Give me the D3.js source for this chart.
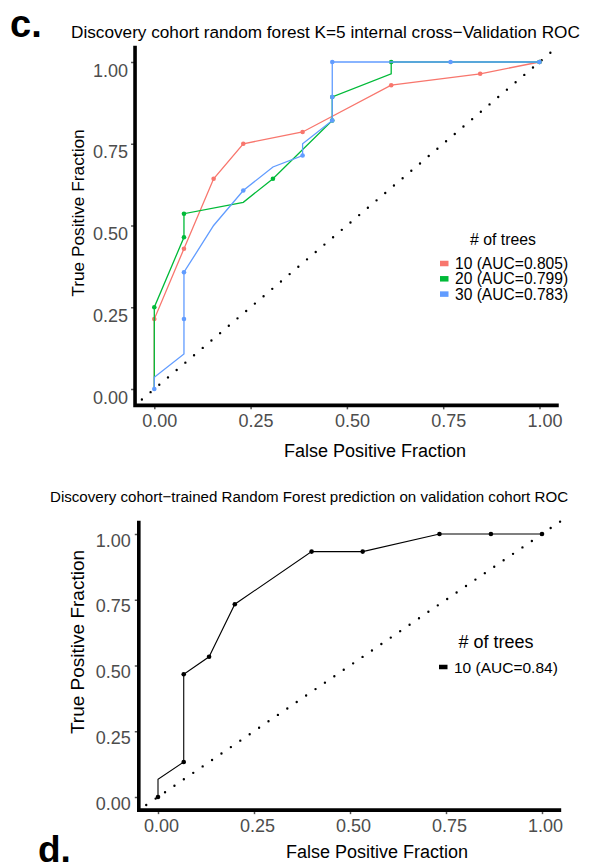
<!DOCTYPE html>
<html>
<head>
<meta charset="utf-8">
<script src="https://cdn.jsdelivr.net/npm/d3@7"></script>
<style>
  body { margin: 0; background: #fff; }
  svg text { font-family: "Liberation Sans", Arial, Helvetica, sans-serif; }
</style>
</head>
<body>
<svg id="chart" width="598" height="864"></svg>
<script>
// tick values + labels, shared by both panels
const tickVals = [0, 0.25, 0.5, 0.75, 1];
const tickLabels = ["0.00", "0.25", "0.50", "0.75", "1.00"];

// panel c : K=5 cross validation, three forests
const treesC = ["10", "20", "30"];
const aucC = ["0.805", "0.799", "0.783"];
const colorsC = ["#F8766D", "#00BA38", "#619CFF"];

const fpr10 = [0, 0, 0.077, 0.154, 0.231, 0.385, 0.615, 0.846, 1];
const tpr10 = [0, 0.214, 0.429, 0.643, 0.75, 0.786, 0.929, 0.964, 1];
const cut10 = [0, 1, 1, 1, 1, 1, 1, 1, 1];

const fpr20 = [0, 0, 0.077, 0.077, 0.231, 0.308, 0.462, 0.462, 0.615, 0.615, 1];
const tpr20 = [0, 0.25, 0.464, 0.536, 0.571, 0.643, 0.821, 0.893, 0.964, 1, 1];
const cut20 = [0, 1, 1, 1, 0, 1, 1, 1, 0, 1, 1];

const fpr30 = [0, 0, 0.077, 0.077, 0.077, 0.154, 0.231, 0.308, 0.385, 0.385, 0.462, 0.462, 0.462, 0.769, 1];
const tpr30 = [0, 0.036, 0.107, 0.214, 0.357, 0.5, 0.607, 0.679, 0.714, 0.75, 0.821, 0.893, 1, 1, 1];
const cut30 = [1, 0, 0, 1, 1, 0, 1, 0, 1, 0, 1, 1, 1, 1, 1];

// panel d : validation cohort prediction
const treesD = ["10"];
const aucD = ["0.84"];
const fprD = [0, 0, 0.067, 0.067, 0.133, 0.2, 0.4, 0.533, 0.733, 0.867, 1];
const tprD = [0, 0.067, 0.133, 0.467, 0.533, 0.733, 0.933, 0.933, 1, 1, 1];
const cutD = [1, 0, 1, 1, 1, 1, 1, 1, 1, 1, 1];

const svg = d3.select("#chart");

function zip(fpr, tpr, cut) {
  return fpr.map((f, i) => ({ x: f, y: tpr[i], cut: cut[i] }));
}

function drawPanel(cfg) {
  const x = d3.scaleLinear().domain([0, 1]).range([cfg.x0, cfg.x1]);
  const y = d3.scaleLinear().domain([0, 1]).range([cfg.y0, cfg.y1]);
  const g = svg.append("g");

  // label like "c."
  g.append("text")
    .attr("x", cfg.tagX).attr("y", cfg.tagY)
    .style("font-size", cfg.tagSize + "px").style("font-weight", "bold")
    .text(cfg.tag);

  g.append("text")
    .attr("x", cfg.titleX).attr("y", cfg.titleY)
    .style("font-size", cfg.titleSize + "px")
    .text(cfg.title);

  // diagonal reference
  g.append("line")
    .attr("x1", x(-0.05)).attr("y1", y(-0.05))
    .attr("x2", x(1.05)).attr("y2", y(1.05))
    .attr("stroke", "#000").attr("stroke-width", 2.4)
    .attr("stroke-linecap", "round")
    .attr("stroke-dasharray", "0 11.4")
    .attr("stroke-dashoffset", -9);

  const line = d3.line().x(d => x(d.x)).y(d => y(d.y));

  cfg.series.forEach(s => {
    const pts = zip(s.fpr, s.tpr, s.cut);
    g.append("path")
      .datum(pts)
      .attr("fill", "none")
      .attr("stroke", s.color)
      .attr("stroke-width", cfg.lineW)
      .attr("d", line);
    g.selectAll(null)
      .data(pts.filter(d => d.cut))
      .enter()
      .append("circle")
      .attr("cx", d => x(d.x))
      .attr("cy", d => y(d.y))
      .attr("r", 2.3)
      .attr("fill", s.color);
  });

  // axes (ggplot style thick black lines)
  const xAxis = g.append("g")
    .attr("transform", `translate(0,${y(-0.05) + 1})`)
    .call(d3.axisBottom(x).tickValues(tickVals).tickSize(3).tickFormat((d, i) => tickLabels[i]));
  xAxis.select(".domain").remove();
  xAxis.selectAll(".tick line").attr("stroke", "#555").attr("stroke-width", 1.5);
  xAxis.selectAll(".tick text")
    .attr("y", cfg.xLabOff).attr("dy", 0).attr("dx", cfg.xLabDx)
    .style("font-size", cfg.tickSize + "px").attr("fill", "#4D4D4D");

  const yAxis = g.append("g")
    .attr("transform", `translate(${x(-0.05) - 1},0)`)
    .call(d3.axisLeft(y).tickValues(tickVals).tickSize(3).tickFormat((d, i) => tickLabels[i]));
  yAxis.select(".domain").remove();
  yAxis.selectAll(".tick line").attr("stroke", "#555").attr("stroke-width", 1.5);
  yAxis.selectAll(".tick text")
    .attr("x", cfg.yLabX).attr("dy", cfg.yLabDy)
    .style("font-size", cfg.tickSize + "px").attr("fill", "#4D4D4D");

  g.append("path")
    .attr("d", `M${x(-0.05)},${y(1.05)}V${y(-0.05)}H${x(1.05)}`)
    .attr("fill", "none").attr("stroke", "#000").attr("stroke-width", 3.6);

  g.append("text")
    .attr("x", cfg.xTitleX).attr("y", cfg.xTitleY)
    .attr("text-anchor", "middle")
    .style("font-size", cfg.xTitleSize + "px")
    .text("False Positive Fraction");

  g.append("text")
    .attr("transform", `translate(${cfg.yTitleX},${cfg.yTitleY}) rotate(-90)`)
    .attr("text-anchor", "middle")
    .style("font-size", cfg.yTitleSize + "px")
    .text("True Positive Fraction");

  // legend
  const leg = g.append("g");
  leg.append("text")
    .attr("x", cfg.legTitleX).attr("y", cfg.legTitleY)
    .attr("text-anchor", "middle")
    .style("font-size", cfg.legTitleSize + "px")
    .text("# of trees");
  cfg.series.forEach((s, i) => {
    const cy = cfg.legY + i * cfg.legStep;
    leg.append("rect")
      .attr("x", cfg.legX).attr("y", cy - cfg.keyH / 2)
      .attr("width", 8.5).attr("height", cfg.keyH)
      .attr("fill", s.color);
    leg.append("text")
      .attr("x", cfg.legX + 15).attr("y", cy + 5.5)
      .style("font-size", cfg.legSize + "px")
      .text(`${s.trees} (AUC=${s.auc})`);
  });
}

drawPanel({
  tag: "c.", tagX: 10, tagY: 37, tagSize: 38,
  title: "Discovery cohort random forest K=5 internal cross\u2212Validation ROC",
  titleX: 71, titleY: 38, titleSize: 17.2,
  x0: 154.3, x1: 539.5, y0: 389, y1: 62,
  lineW: 1.3, tickSize: 18,
  xLabOff: 21, xLabDx: 5, yLabX: -6, yLabDy: 14,
  xTitleX: 375, xTitleY: 457, xTitleSize: 18,
  yTitleX: 84, yTitleY: 213, yTitleSize: 17.3,
  legTitleX: 503, legTitleY: 245, legTitleSize: 15.8,
  legX: 440, legY: 263.5, legStep: 15.3, legSize: 15.6, keyH: 5.5,
  series: [
    { trees: treesC[0], auc: aucC[0], color: colorsC[0], fpr: fpr10, tpr: tpr10, cut: cut10 },
    { trees: treesC[1], auc: aucC[1], color: colorsC[1], fpr: fpr20, tpr: tpr20, cut: cut20 },
    { trees: treesC[2], auc: aucC[2], color: colorsC[2], fpr: fpr30, tpr: tpr30, cut: cut30 }
  ]
});

drawPanel({
  tag: "d.", tagX: 38, tagY: 862, tagSize: 37,
  title: "Discovery cohort\u2212trained Random Forest prediction on validation cohort ROC",
  titleX: 50, titleY: 502, titleSize: 15.1,
  x0: 158, x1: 542, y0: 797, y1: 534,
  lineW: 1.1, tickSize: 18,
  xLabOff: 21, xLabDx: 3, yLabX: -7, yLabDy: 12,
  xTitleX: 377, xTitleY: 858, xTitleSize: 18,
  yTitleX: 84, yTitleY: 642, yTitleSize: 19,
  legTitleX: 496, legTitleY: 648, legTitleSize: 18,
  legX: 439, legY: 667, legStep: 15, legSize: 15.5, keyH: 4.5,
  series: [
    { trees: treesD[0], auc: aucD[0], color: "#000", fpr: fprD, tpr: tprD, cut: cutD }
  ]
});
</script>
</body>
</html>
